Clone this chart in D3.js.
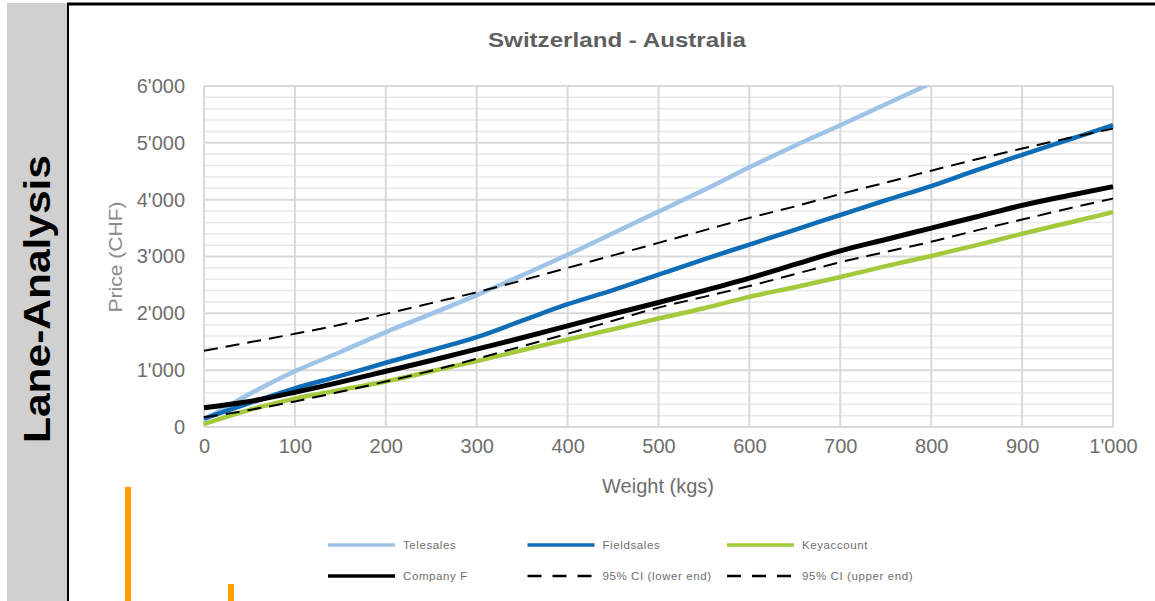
<!DOCTYPE html>
<html>
<head>
<meta charset="utf-8">
<script src="https://cdn.jsdelivr.net/npm/d3@7"></script>
<style>
  html, body { margin: 0; padding: 0; background: #fff; }
  svg { display: block; font-family: "Liberation Sans", Arial, sans-serif; }
</style>
</head>
<body>
<svg id="chart" width="1155" height="601"></svg>
<script>
// Weight (kg) sample points shared by all curves
const weights = [0, 50, 100, 150, 200, 250, 300, 350, 400, 450, 500, 550, 600, 650, 700, 750, 800, 850, 900, 950, 1000];

// Price (CHF) per channel
const telesales  = [120, 580, 980, 1320, 1670, 1990, 2320, 2670, 3030, 3410, 3790, 4170, 4570, 4950, 5310, 5680, 6050, null, null, null, null];
const fieldsales = [150, 420, 680, 900, 1130, 1350, 1580, 1870, 2160, 2410, 2680, 2950, 3210, 3470, 3730, 3990, 4240, 4520, 4790, 5050, 5310];
const keyaccount = [50, 300, 500, 650, 800, 980, 1160, 1350, 1540, 1720, 1910, 2090, 2290, 2460, 2640, 2830, 3010, 3200, 3400, 3590, 3780];
const companyF   = [340, 450, 610, 790, 980, 1170, 1370, 1570, 1780, 1990, 2190, 2400, 2620, 2860, 3100, 3300, 3500, 3700, 3900, 4070, 4230];
const ciLower    = [170, 300, 450, 620, 800, 990, 1200, 1420, 1640, 1870, 2100, 2290, 2480, 2690, 2900, 3080, 3260, 3460, 3650, 3840, 4020];
const ciUpper    = [1340, 1490, 1640, 1800, 1990, 2180, 2370, 2580, 2800, 3020, 3240, 3460, 3680, 3880, 4100, 4300, 4510, 4710, 4900, 5080, 5250];

// Axis ticks
const xTicks = [0, 100, 200, 300, 400, 500, 600, 700, 800, 900, 1000];
const yTicks = [0, 1000, 2000, 3000, 4000, 5000, 6000];
const yMinorStep = 200;

// Orange markers of the neighbouring panel (relative heights)
const orangeMarkers = [
  { pos: 0, value: 114 },
  { pos: 1, value: 17 }
];

const svg = d3.select("#chart");

// Side band with the section label
svg.append("rect").attr("x", 7).attr("y", 3).attr("width", 61).attr("height", 598).attr("fill", "#d0d0d0");
svg.append("line").attr("x1", 68).attr("x2", 68).attr("y1", 3).attr("y2", 601)
  .attr("stroke", "#000").attr("stroke-width", 2);
svg.append("line").attr("x1", 67).attr("x2", 1155).attr("y1", 4).attr("y2", 4)
  .attr("stroke", "#000").attr("stroke-width", 3);

svg.append("text")
  .attr("transform", "translate(50,299) rotate(-90)")
  .attr("text-anchor", "middle")
  .attr("font-size", 36).attr("font-weight", "bold").attr("fill", "#000")
  .attr("textLength", 288).attr("lengthAdjust", "spacingAndGlyphs")
  .text("Lane-Analysis");

// Plot area
const x = d3.scaleLinear().domain([0, 1000]).range([204, 1113]);
const y = d3.scaleLinear().domain([0, 6000]).range([427, 86]);

const grid = svg.append("g");
const minor = d3.range(0, 6001, yMinorStep).filter(v => v % 1000 !== 0);
grid.selectAll("line.minor").data(minor).join("line")
  .attr("x1", x(0)).attr("x2", x(1000))
  .attr("y1", d => y(d)).attr("y2", d => y(d))
  .attr("stroke", "#e9e9e9").attr("stroke-width", 1.5);
grid.selectAll("line.hmajor").data(yTicks).join("line")
  .attr("x1", x(0)).attr("x2", x(1000))
  .attr("y1", d => y(d)).attr("y2", d => y(d))
  .attr("stroke", "#d9d9d9").attr("stroke-width", 2);
grid.selectAll("line.vmajor").data(xTicks).join("line")
  .attr("x1", d => x(d)).attr("x2", d => x(d))
  .attr("y1", y(0)).attr("y2", y(6000))
  .attr("stroke", "#d9d9d9").attr("stroke-width", 2);

const fmt = v => v === 0 ? "0" : d3.format(",")(v).replace(/,/g, "'");

// Axes
const xAxis = svg.append("g").attr("transform", `translate(0,${y(0)})`)
  .call(d3.axisBottom(x).tickValues(xTicks).tickFormat(fmt).tickSize(0).tickPadding(12));
const yAxis = svg.append("g").attr("transform", `translate(${x(0)},0)`)
  .call(d3.axisLeft(y).tickValues(yTicks).tickFormat(fmt).tickSize(0).tickPadding(19));
[xAxis, yAxis].forEach(a => {
  a.select(".domain").remove();
  a.selectAll("text").attr("font-size", 20).attr("fill", "#6e6e6e")
    .attr("font-family", "'Liberation Sans', Arial, sans-serif");
});

// Titles
svg.append("text").attr("x", 617).attr("y", 47).attr("text-anchor", "middle")
  .attr("font-size", 21).attr("font-weight", "bold").attr("fill", "#5f5f5f")
  .attr("textLength", 258).attr("lengthAdjust", "spacingAndGlyphs")
  .text("Switzerland - Australia");
svg.append("text").attr("x", 658).attr("y", 493).attr("text-anchor", "middle")
  .attr("font-size", 20).attr("fill", "#6e6e6e")
  .text("Weight (kgs)");
svg.append("text").attr("transform", "translate(122,257) rotate(-90)").attr("text-anchor", "middle")
  .attr("font-size", 18).attr("fill", "#8a8a8a")
  .attr("textLength", 111).attr("lengthAdjust", "spacingAndGlyphs")
  .text("Price (CHF)");

// Series
const series = [
  { name: "Telesales",           values: telesales,  color: "#9dc3e6", width: 4.5, dash: null },
  { name: "Fieldsales",          values: fieldsales, color: "#0f6cb6", width: 4.5, dash: null },
  { name: "Keyaccount",          values: keyaccount, color: "#a4c93c", width: 4.5, dash: null },
  { name: "95% CI (lower end)",  values: ciLower,    color: "#000",    width: 2,   dash: "14,8" },
  { name: "95% CI (upper end)",  values: ciUpper,    color: "#000",    width: 2,   dash: "14,8" },
  { name: "Company F",           values: companyF,   color: "#000",    width: 5,   dash: null }
];

svg.append("clipPath").attr("id", "plotClip").append("rect")
  .attr("x", x(0) - 5).attr("y", y(6000)).attr("width", x(1000) - x(0) + 10).attr("height", y(0) - y(6000) + 5);

const line = d3.line()
  .defined(d => d[1] !== null)
  .x(d => x(d[0])).y(d => y(d[1]))
  .curve(d3.curveMonotoneX);

svg.append("g").attr("clip-path", "url(#plotClip)")
  .selectAll("path").data(series).join("path")
  .attr("d", s => line(weights.map((w, i) => [w, s.values[i]])))
  .attr("fill", "none")
  .attr("stroke", s => s.color)
  .attr("stroke-width", s => s.width)
  .attr("stroke-dasharray", s => s.dash)
  .attr("stroke-linejoin", "round");

// Legend
const legendItems = [
  { name: "Telesales",          color: "#9dc3e6", dash: null,     width: 3.5 },
  { name: "Fieldsales",         color: "#0f6cb6", dash: null,     width: 3.5 },
  { name: "Keyaccount",         color: "#a4c93c", dash: null,     width: 3.5 },
  { name: "Company F",          color: "#000",    dash: null,     width: 3.5 },
  { name: "95% CI (lower end)", color: "#000",    dash: "14,11",  width: 2.5 },
  { name: "95% CI (upper end)", color: "#000",    dash: "14,11",  width: 2.5 }
];
const legendX = d3.scalePoint().domain([0, 1, 2]).range([328, 727]);
const legendY = d3.scalePoint().domain([0, 1]).range([545, 576]);
const lg = svg.append("g").selectAll("g").data(legendItems).join("g")
  .attr("transform", (d, i) => `translate(${legendX(i % 3)},${legendY(Math.floor(i / 3))})`);
lg.append("line").attr("x1", 0).attr("x2", 67).attr("y1", 0).attr("y2", 0)
  .attr("stroke", d => d.color).attr("stroke-width", d => d.width)
  .attr("stroke-dasharray", d => d.dash);
lg.append("text").attr("x", 75).attr("y", 4).attr("font-size", 11.5).attr("fill", "#6e6e6e")
  .attr("letter-spacing", 0.6)
  .text(d => d.name);

// Orange markers
const mx = d3.scalePoint().domain(orangeMarkers.map(d => d.pos)).range([125, 228]);
const mh = d3.scaleLinear().domain([0, 114]).range([0, 114]);
svg.append("g").selectAll("rect").data(orangeMarkers).join("rect")
  .attr("x", d => mx(d.pos)).attr("width", 6)
  .attr("y", d => 601 - mh(d.value)).attr("height", d => mh(d.value))
  .attr("fill", "#ffa000");
</script>
</body>
</html>
